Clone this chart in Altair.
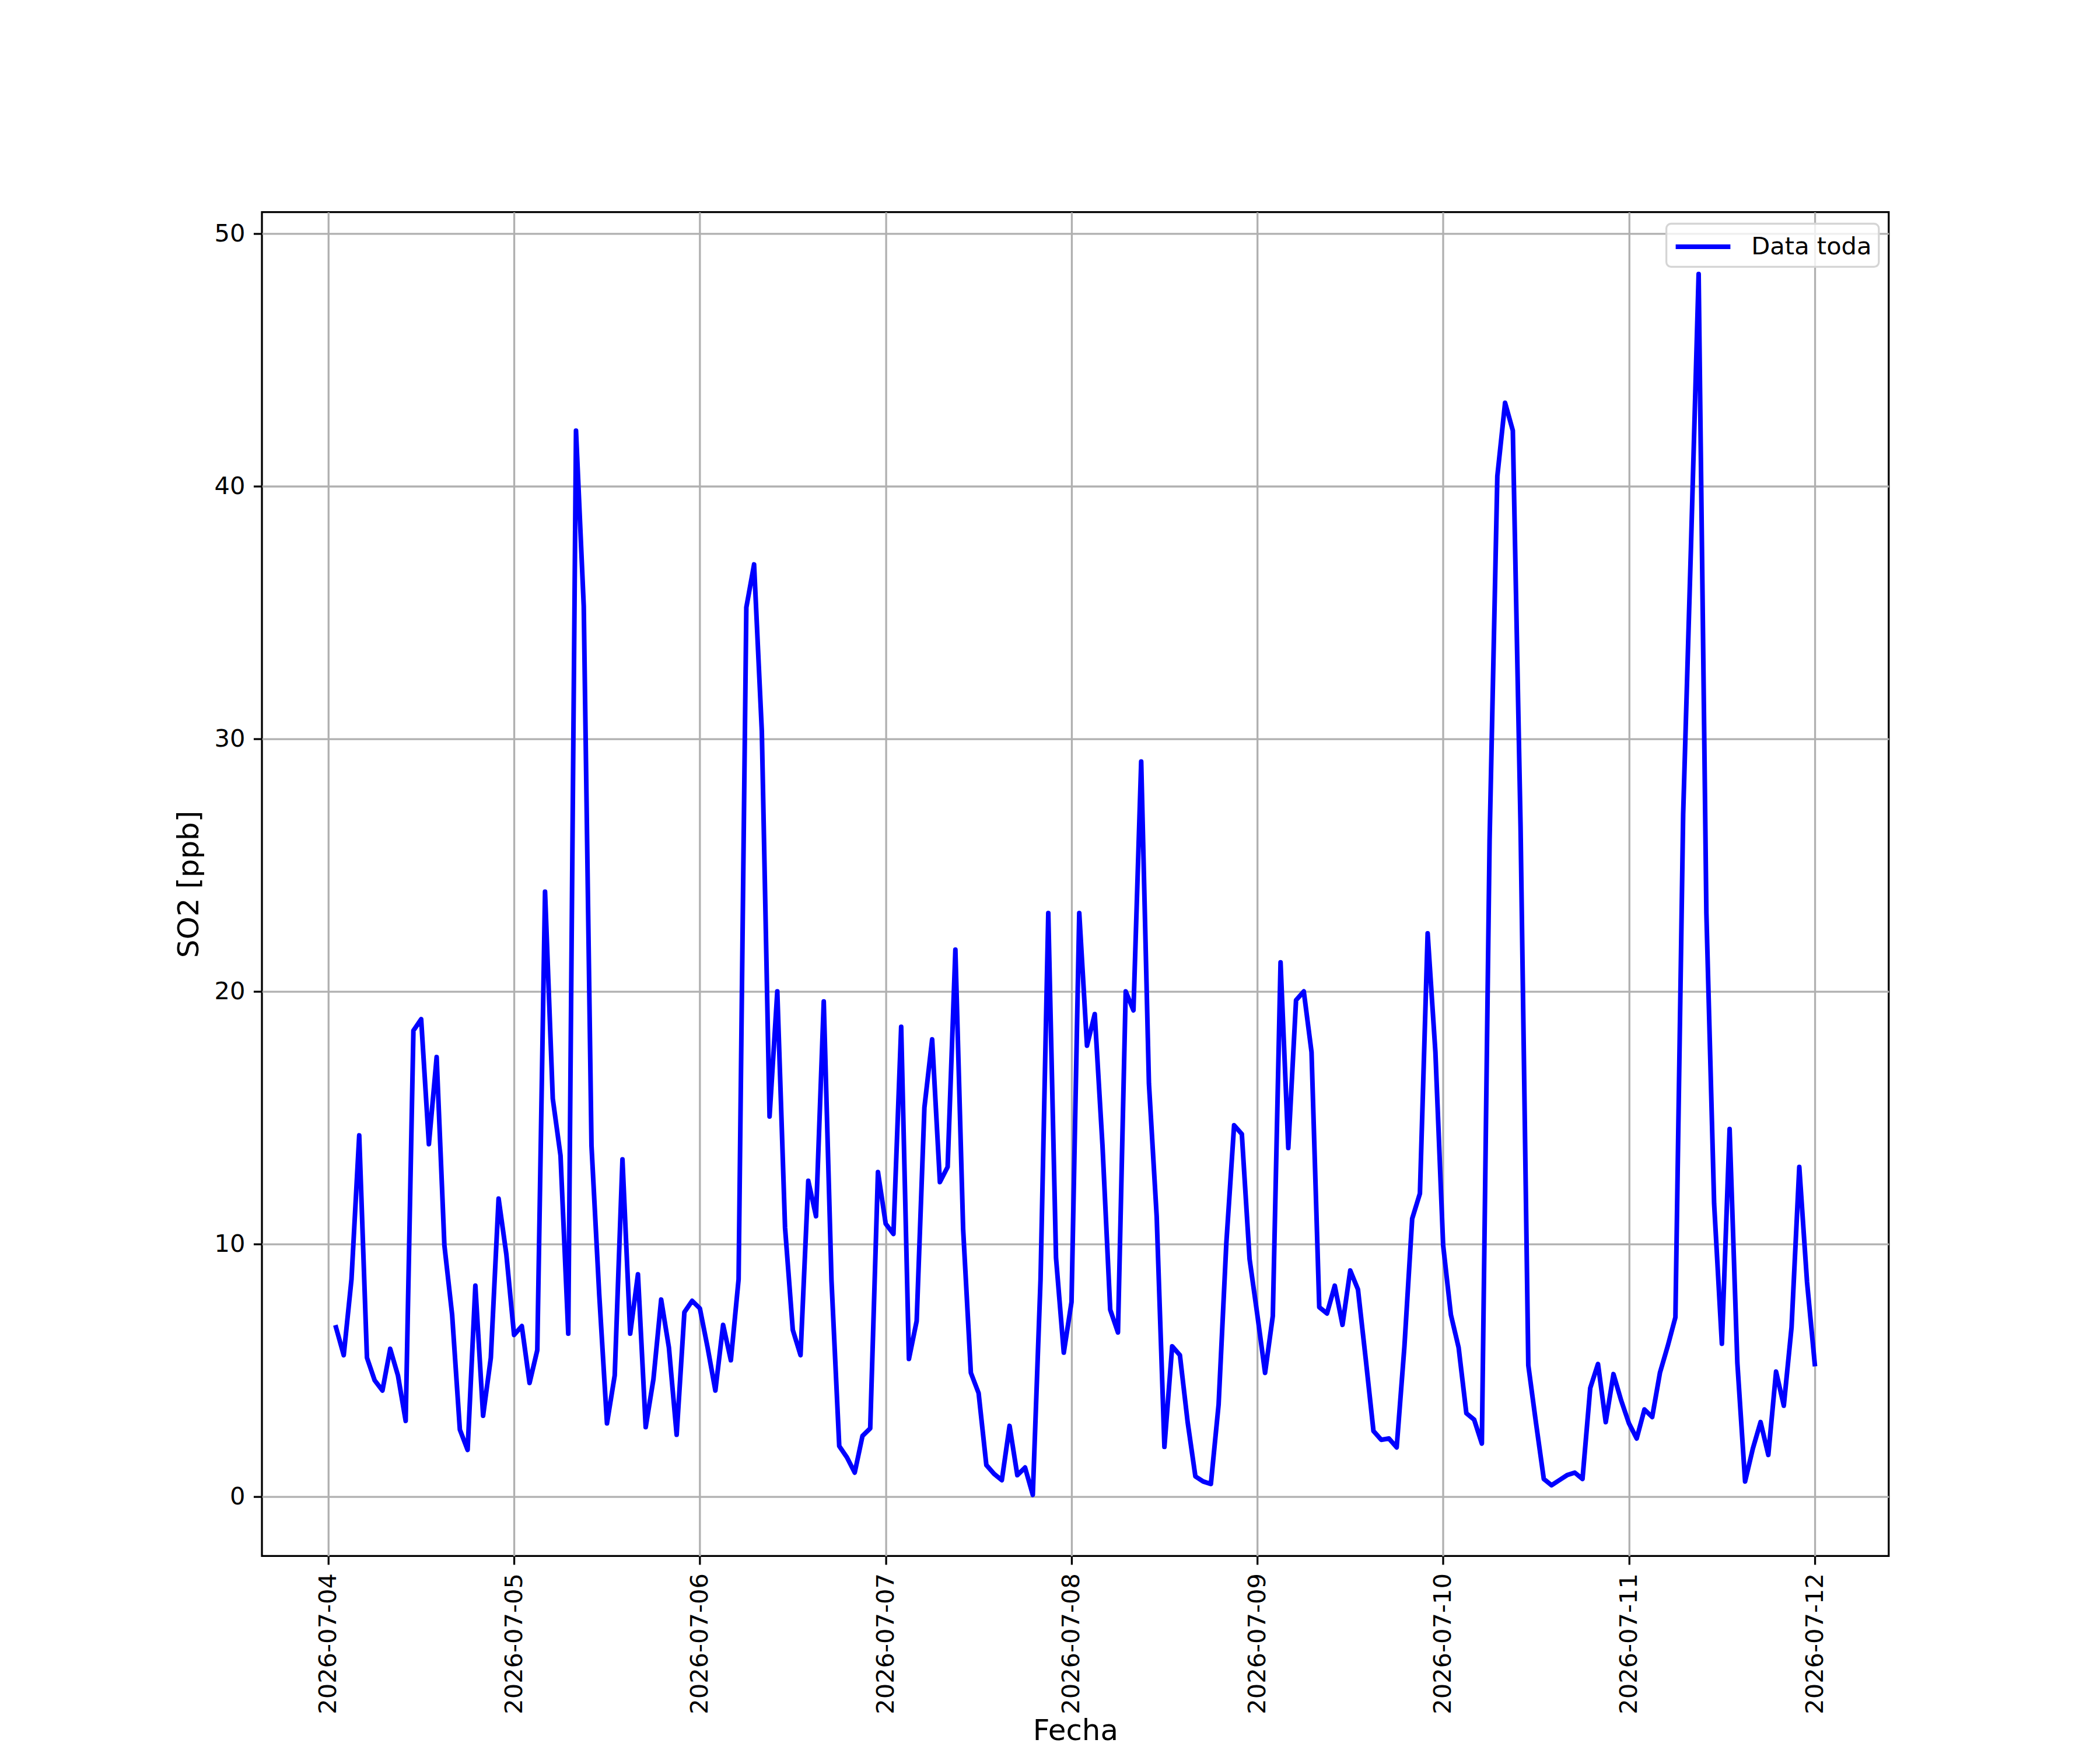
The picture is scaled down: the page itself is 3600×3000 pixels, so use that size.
import altair as alt
import pandas as pd

# Hourly SO2 readings [ppb], first reading 2026-07-04 01:00, last 2026-07-12 00:00
so2_day1 = [6.7, 5.6, 8.6, 14.3, 5.5, 4.6, 4.2, 5.85, 4.8, 3.0, 18.45, 18.9,
            13.95, 17.4, 9.95, 7.2, 2.65, 1.85, 8.35, 3.2, 5.5, 11.8, 9.6, 6.4]
so2_day2 = [6.75, 4.5, 5.8, 23.95, 15.75, 13.5, 6.45, 42.2, 35.25, 13.9, 8.0, 2.9,
            4.8, 13.35, 6.45, 8.8, 2.75, 4.65, 7.8, 5.9, 2.45, 7.3, 7.75, 7.45]
so2_day3 = [5.9, 4.2, 6.8, 5.4, 8.6, 35.2, 36.9, 30.3, 15.05, 20.0, 10.65, 6.6,
            5.6, 12.5, 11.1, 19.6, 8.55, 2.0, 1.55, 0.95, 2.4, 2.7, 12.85, 10.8]
so2_day4 = [10.4, 18.6, 5.45, 6.95, 15.4, 18.1, 12.45, 13.05, 21.65, 10.6, 4.9, 4.1,
            1.25, 0.9, 0.65, 2.8, 0.85, 1.15, 0.07, 8.6, 23.1, 9.45, 5.7, 7.7]
so2_day5 = [23.1, 17.85, 19.1, 13.9, 7.4, 6.5, 20.0, 19.25, 29.1, 16.35, 11.1, 1.97,
            5.95, 5.6, 2.95, 0.8, 0.6, 0.5, 3.65, 10.05, 14.7, 14.35, 9.4, 7.2]
so2_day6 = [4.9, 7.15, 21.15, 13.8, 19.65, 20.0, 17.6, 7.5, 7.25, 8.35, 6.8, 8.95,
            8.2, 5.45, 2.6, 2.25, 2.3, 1.95, 5.95, 11.0, 12.0, 22.3, 17.6, 9.95]
so2_day7 = [7.2, 5.9, 3.3, 3.05, 2.1, 26.0, 40.4, 43.3, 42.2, 26.5, 5.2, 2.9,
            0.7, 0.45, 0.65, 0.85, 0.95, 0.7, 4.3, 5.25, 2.95, 4.85, 3.8, 2.9]
so2_day8 = [2.3, 3.45, 3.15, 4.9, 5.95, 7.1, 27.0, 37.5, 48.4, 23.1, 11.6, 6.05,
            14.55, 5.3, 0.6, 1.9, 2.95, 1.65, 4.95, 3.6, 6.7, 13.05, 8.5, 5.25]

so2 = so2_day1 + so2_day2 + so2_day3 + so2_day4 + so2_day5 + so2_day6 + so2_day7 + so2_day8
times = pd.date_range("2026-07-04 01:00", periods=len(so2), freq="h")

tick_days = [4, 5, 6, 7, 8, 9, 10, 11, 12]
y_ticks = [0, 10, 20, 30, 40, 50]
series_name = "Data toda"

df = pd.DataFrame({
    "Fecha": times.strftime("%Y-%m-%dT%H:%M:%S"),
    "SO2": so2,
    "serie": series_name,
})

FS = 41.7
TFS = 50
LW = 3.3
LINE_W = 8

x_domain = [
    alt.DateTime(year=2026, month=7, date=3, hours=15, minutes=26),
    alt.DateTime(year=2026, month=7, date=12, hours=9, minutes=33),
]

chart = alt.Chart(df).mark_line(
    strokeWidth=LINE_W, strokeJoin="round", strokeCap="square"
).encode(
    x=alt.X(
        "Fecha:T",
        scale=alt.Scale(domain=x_domain, nice=False),
        axis=alt.Axis(
            title="Fecha",
            values=[alt.DateTime(year=2026, month=7, date=d) for d in tick_days],
            format="%Y-%m-%d",
            labelAngle=270,
            labelAlign="right",
            labelBaseline="middle",
            labelLimit=0,
            titleY=276,
            titleBaseline="top",
        ),
    ),
    y=alt.Y(
        "SO2:Q",
        scale=alt.Scale(domain=[-2.35, 50.85], nice=False, zero=False),
        axis=alt.Axis(title="SO2 [ppb]", values=y_ticks, titlePadding=18),
    ),
    color=alt.Color(
        "serie:N",
        scale=alt.Scale(domain=[series_name], range=["#0000ff"]),
        legend=alt.Legend(
            title=None,
            orient="none",
            legendX=2413,
            legendY=20,
            symbolType="M-1,0H3",
            symbolSize=2209,
            symbolStrokeWidth=LINE_W,
            labelOffset=79,
            labelFontSize=FS,
            labelFont="DejaVu Sans",
            labelColor="black",
            labelLimit=0,
            padding=12,
            fillColor="rgba(255,255,255,0.8)",
            strokeColor="#d5d5d5",
            cornerRadius=8,
        ),
    ),
).properties(
    width=2795,
    height=2309,
    autosize=alt.AutoSizeParams(type="none"),
    padding={"left": 442, "top": 353, "right": 355, "bottom": 330},
).configure(
    font="DejaVu Sans",
).configure_view(
    stroke="black",
    strokeWidth=LW,
).configure_axis(
    domain=False,
    grid=True,
    gridColor="#b0b0b0",
    gridWidth=LW,
    ticks=True,
    tickColor="black",
    tickWidth=LW,
    tickSize=14.6,
    labelPadding=14.6,
    labelFontSize=FS,
    labelFont="DejaVu Sans",
    labelColor="black",
    titleFontSize=TFS,
    titleFont="DejaVu Sans",
    titleFontWeight="normal",
    titleColor="black",
).configure_legend(
    strokeWidth=LW,
)

chart.save("out.html", embed_options={"renderer": "svg", "actions": False})
